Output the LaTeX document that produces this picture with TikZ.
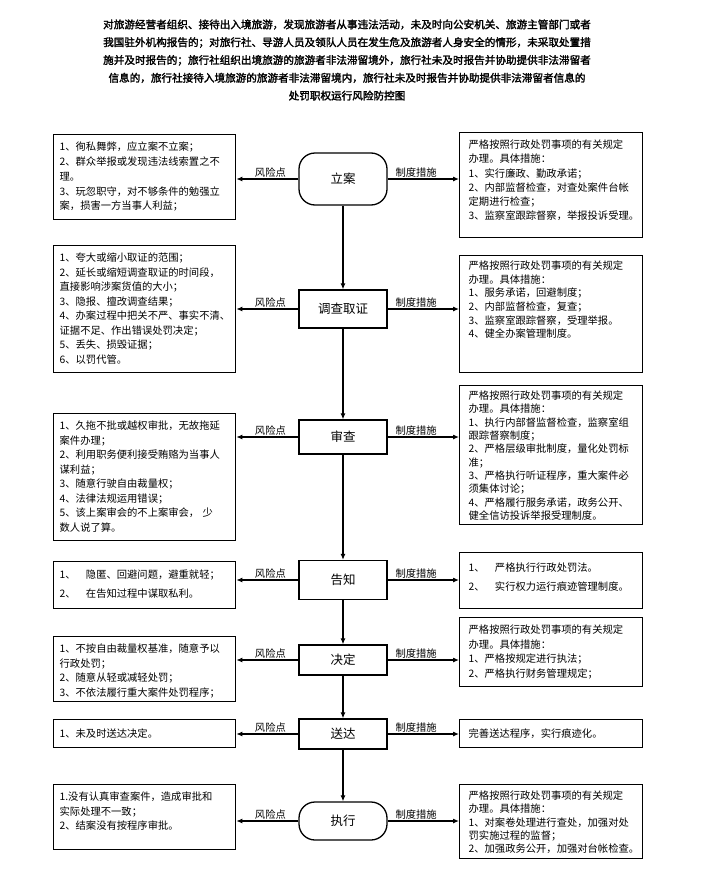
\documentclass[tikz,border=0pt]{standalone}
\usepackage{fontspec}
\setmainfont{Noto Sans CJK SC}
\newfontfamily\titlefont[FakeBold=2]{Noto Sans CJK SC}
\usetikzlibrary{arrows.meta}
\setlength{\lineskiplimit}{-20pt}

\begin{document}
\begin{tikzpicture}[x=1pt,y=-1pt,>={Latex[length=6pt,width=5pt]},
	stage/.style={draw,line width=1.3pt,minimum width=88pt,inner sep=2pt,font=\fontsize{12.5}{14}\selectfont},
	stagecap/.style={stage,rounded corners=16pt},
	sidebox/.style={draw,line width=1.3pt,anchor=north west,inner xsep=6pt,inner ysep=4pt,text height=12pt,align=left,font=\fontsize{10.3}{14.5}\selectfont},
	riskbox/.style={sidebox,text width=170pt},
	planbox/.style={sidebox,inner xsep=9pt,text width=165pt},
	link/.style={->,line width=1.1pt},
	tag/.style={above,inner sep=1.5pt,font=\fontsize{10.3}{12}\selectfont}]
	\useasboundingbox (0,0) rectangle (708,878);
	% 标题
	\node[align=center,font=\titlefont\fontsize{10.6}{17.8}\selectfont] (title) at (347,60)
	{对旅游经营者组织、接待出入境旅游，发现旅游者从事违法活动，未及时向公安机关、旅游主管部门或者\\
	我国驻外机构报告的；对旅行社、导游人员及领队人员在发生危及旅游者人身安全的情形，未采取处置措\\
	施并及时报告的；旅行社组织出境旅游的旅游者非法滞留境外，旅行社未及时报告并协助提供非法滞留者\\
	信息的，旅行社接待入境旅游的旅游者非法滞留境内，旅行社未及时报告并协助提供非法滞留者信息的\\
	处罚职权运行风险防控图};
	% 流程
	\node[stagecap,minimum height=52pt] (lian) at (343,179) {立案};
	\node[stage,minimum height=38pt] (diaocha) at (343,309) {调查取证};
	\node[stage,minimum height=34pt] (shencha) at (343,437) {审查};
	\node[stage,minimum height=39pt] (gaozhi) at (343,580) {告知};
	\node[stage,minimum height=30pt] (jueding) at (343,660) {决定};
	\node[stage,minimum height=30pt] (songda) at (343,734) {送达};
	\node[stagecap,minimum height=38pt] (zhixing) at (343,821) {执行};
	% 风险点
	\node[riskbox,text depth=65pt,font=\fontsize{10.3}{14.8}\selectfont] (risk1) at (53,134) {1、徇私舞弊，应立案不立案；\\
	2、群众举报或发现违法线索置之不\\理。\\
	3、玩忽职守，对不够条件的勉强立\\案，损害一方当事人利益；};
	\node[riskbox,text depth=107pt] (risk2) at (53,245) {1、夸大或缩小取证的范围；\\
	2、延长或缩短调查取证的时间段，\\直接影响涉案货值的大小；\\
	3、隐报、擅改调查结果；\\
	4、办案过程中把关不严、事实不清、\\证据不足、作出错误处罚决定；\\
	5、丢失、损毁证据；\\
	6、以罚代管。};
	\node[riskbox,text depth=107pt] (risk3) at (53,413) {1、久拖不批或越权审批，无故拖延\\案件办理；\\
	2、利用职务便利接受贿赂为当事人\\谋利益；\\
	3、随意行驶自由裁量权；\\
	4、法律法规运用错误；\\
	5、该上案审会的不上案审会， 少\\数人说了算。};
	\node[riskbox,text height=13pt,text depth=26pt,font=\fontsize{10.3}{19}\selectfont] (risk4) at (53,561)
	{1、　隐匿、回避问题，避重就轻；\\2、　在告知过程中谋取私利。};
	\node[riskbox,text depth=45pt] (risk5) at (53,636) {1、不按自由裁量权基准，随意予以\\行政处罚；\\
	2、随意从轻或减轻处罚；\\
	3、不依法履行重大案件处罚程序；};
	\node[riskbox,text height=14pt,text depth=6pt] (risk6) at (53,719) {1、未及时送达决定。};
	\node[riskbox,text depth=45pt] (risk7) at (53,784) {1.没有认真审查案件，造成审批和\\实际处理不一致；\\
	2、结案没有按程序审批。};
	% 制度措施
	\node[planbox,text depth=85pt,font=\fontsize{10.3}{14.2}\selectfont] (plan1) at (459,132) {严格按照行政处罚事项的有关规定\\办理。具体措施：\\
	1、实行廉政、勤政承诺；\\
	2、内部监督检查，对查处案件台帐\\定期进行检查；\\
	3、监察室跟踪督察，举报投诉受理。};
	\node[planbox,text height=10pt,text depth=99pt,font=\fontsize{10.3}{13.6}\selectfont] (plan2) at (459,255) {严格按照行政处罚事项的有关规定\\办理。具体措施：\\
	1、服务承诺，回避制度；\\
	2、内部监督检查，复查；\\
	3、监察室跟踪督察，受理举报。\\
	4、健全办案管理制度。};
	\node[planbox,text height=10pt,text depth=121pt,font=\fontsize{10.3}{13.3}\selectfont] (plan3) at (459,385) {严格按照行政处罚事项的有关规定\\办理。具体措施：\\
	1、执行内部督监督检查，监察室组\\跟踪督察制度；\\
	2、严格层级审批制度，量化处罚标\\准；\\
	3、严格执行听证程序，重大案件必\\须集体讨论；\\
	4、严格履行服务承诺，政务公开、\\健全信访投诉举报受理制度。};
	\node[planbox,text height=15pt,text depth=33pt,font=\fontsize{10.3}{19}\selectfont] (plan4) at (459,552)
	{1、　严格执行行政处罚法。\\2、　实行权力运行痕迹管理制度。};
	\node[planbox,text depth=49pt] (plan5) at (459,617) {严格按照行政处罚事项的有关规定\\办理。具体措施：\\
	1、严格按规定进行执法；\\
	2、严格执行财务管理规定；};
	\node[planbox,text height=14pt,text depth=6pt] (plan6) at (459,719) {完善送达程序，实行痕迹化。};
	\node[planbox,text height=11pt,text depth=55pt,font=\fontsize{10.3}{13.2}\selectfont] (plan7) at (459,784) {严格按照行政处罚事项的有关规定\\办理。具体措施：\\
	1、对案卷处理进行查处，加强对处\\罚实施过程的监督；\\
	2、加强政务公开，加强对台帐检查。};
	% 连线
	\foreach \s/\n in {lian/1,diaocha/2,shencha/3,gaozhi/4,jueding/5,songda/6,zhixing/7}{
		\draw[link] (\s.west) -- (\s.west -| risk\n.east) node[tag,pos=.45]{风险点};
		\draw[link] (\s.east) -- (\s.east -| plan\n.west) node[tag,pos=.4]{制度措施};
	}
	\foreach \a/\b in {lian/diaocha,diaocha/shencha,shencha/gaozhi,gaozhi/jueding,jueding/songda,songda/zhixing}
		\draw[link] (\a) -- (\b);
\end{tikzpicture}
\end{document}
